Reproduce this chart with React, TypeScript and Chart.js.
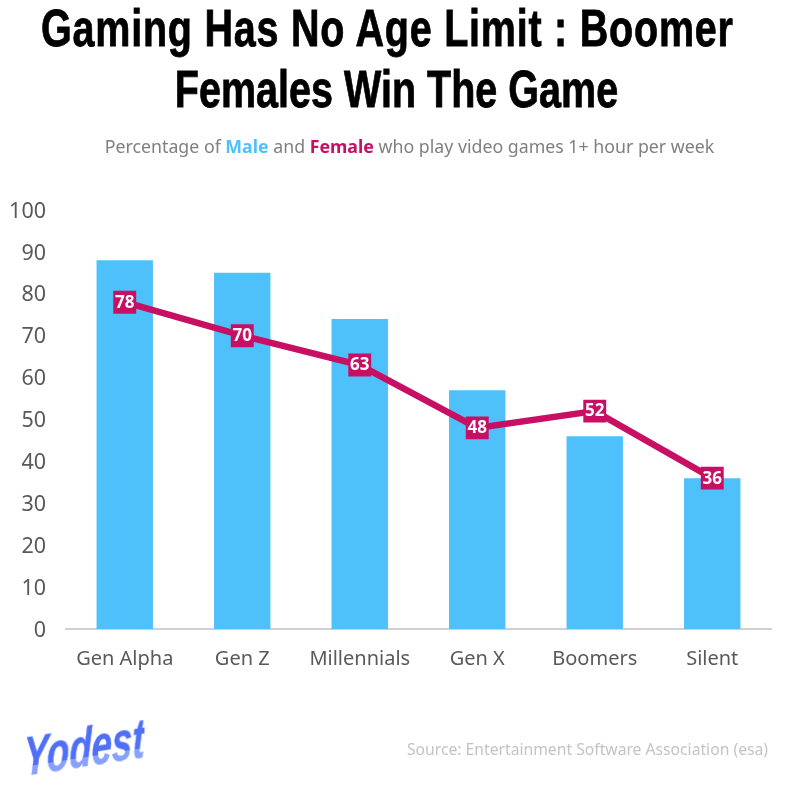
import React, { useEffect, useRef } from "react";
import { Chart, registerables } from "chart.js";

Chart.register(...registerables);

const categories = ["Gen Alpha", "Gen Z", "Millennials", "Gen X", "Boomers", "Silent"];
const maleValues = [88, 85, 74, 57, 46, 36];
const femaleValues = [78, 70, 63, 48, 52, 36];
const BLUE = "#4fc1fa";
const PINK = "#c70f64";
const UI_FONT = '"Noto Sans", "Open Sans", sans-serif';

const pointLabels = {
  id: "pointLabels",
  afterUpdate(chart: any) {
    // nudge the y tick labels down so they sit on their tick position like the reference
    chart.scales.y.getLabelItems().forEach((item: any) => {
      item.options.translation = [item.options.translation[0], item.options.translation[1] + 1.5];
    });
  },
  afterDatasetsDraw(chart: any) {
    const { ctx } = chart;
    const meta = chart.getDatasetMeta(0);
    ctx.save();
    ctx.fillStyle = "#ffffff";
    ctx.font = `bold 17px ${UI_FONT}`;
    ctx.textAlign = "center";
    ctx.textBaseline = "middle";
    meta.data.forEach((pt: any, i: number) => {
      ctx.fillText(String(femaleValues[i]), pt.x, pt.y + 0.5);
    });
    ctx.restore();
  },
};

const abs = (o: React.CSSProperties): React.CSSProperties => ({ position: "absolute", whiteSpace: "nowrap", ...o });

export default function App() {
  const ref = useRef<HTMLCanvasElement | null>(null);
  useEffect(() => {
    if (!ref.current) return;
    const chart = new Chart(ref.current, {
      data: {
        labels: categories,
        datasets: [
          {
            type: "line",
            label: "Female",
            data: femaleValues,
            borderColor: PINK,
            borderWidth: 6.5,
            backgroundColor: PINK,
            pointStyle: "rect",
            pointRadius: 16.2,
            pointBackgroundColor: PINK,
            pointBorderWidth: 0,
            tension: 0,
            order: 1,
          },
          {
            type: "bar",
            label: "Male",
            data: maleValues,
            backgroundColor: BLUE,
            categoryPercentage: 1,
            barPercentage: 0.48,
            order: 2,
          },
        ],
      } as any,
      options: {
        animation: false,
        responsive: false,
        devicePixelRatio: 1,
        layout: { padding: { left: 0, right: 24, top: 210, bottom: 103 } },
        plugins: { legend: { display: false }, tooltip: { enabled: false }, title: { display: false } },
        scales: {
          x: {
            grid: { display: false, drawTicks: false },
            border: { display: true, color: "#d0d0d0", width: 2 },
            ticks: { color: "#595959", font: { family: UI_FONT, size: 20 }, padding: 18, maxRotation: 0 },
          },
          y: {
            min: 0,
            max: 100,
            afterFit(scale: any) { scale.width = 66; },
            grid: { display: false, drawTicks: false },
            border: { display: false },
            ticks: { stepSize: 10, color: "#595959", font: { family: UI_FONT, size: 21.5 }, padding: 20 },
          },
        },
      } as any,
      plugins: [pointLabels],
    });
    return () => chart.destroy();
  }, []);

  return (
    <div style={{ position: "fixed", left: 0, top: 0, width: 795, height: 792, background: "#fff", overflow: "hidden" }}>
      <canvas ref={ref} width={795} height={792} style={{ position: "absolute", left: 0, top: 0, display: "block" }} />
      <div style={abs({ left: -200, width: 1195, top: -2, textAlign: "center", fontFamily: '"Liberation Sans", sans-serif', fontWeight: 700, fontSize: 52, lineHeight: "61px", color: "#000", WebkitTextStroke: "0.8px #000", transform: "translateX(-1px) scaleX(0.76)" })}>
        <span style={{ letterSpacing: 1, display: "inline-block", transform: "translateX(-12px)" }}>Gaming Has No Age Limit : Boomer</span>
        <br />
        Females Win The Game
      </div>
      <div style={abs({ left: 0, width: 819, top: 133, textAlign: "center", fontFamily: UI_FONT, fontSize: 17.75, lineHeight: "26px", color: "#7f7f7f" })}>
        Percentage of <span style={{ color: BLUE, fontWeight: 700 }}>Male</span> and <span style={{ color: PINK, fontWeight: 700 }}>Female</span> who play video games 1+ hour per week
      </div>
      <div style={abs({ right: 27, top: 738, fontFamily: UI_FONT, fontSize: 15.7, lineHeight: "22px", color: "#c4c4c4" })}>
        Source: Entertainment Software Association (esa)
      </div>
      <div style={abs({ left: 24, top: 729, fontFamily: '"Liberation Sans", sans-serif', fontWeight: 700, fontStyle: "italic", fontSize: 50, lineHeight: "56px", transformOrigin: "left center", transform: "rotate(-9deg) skewX(-9deg) scale(0.74, 1.1)", background: "linear-gradient(#4f6ff5 66%, #87a0fb 66%)", WebkitBackgroundClip: "text", backgroundClip: "text", color: "transparent", WebkitTextStroke: "0.6px transparent" })}>
        Yodest
      </div>
    </div>
  );
}
